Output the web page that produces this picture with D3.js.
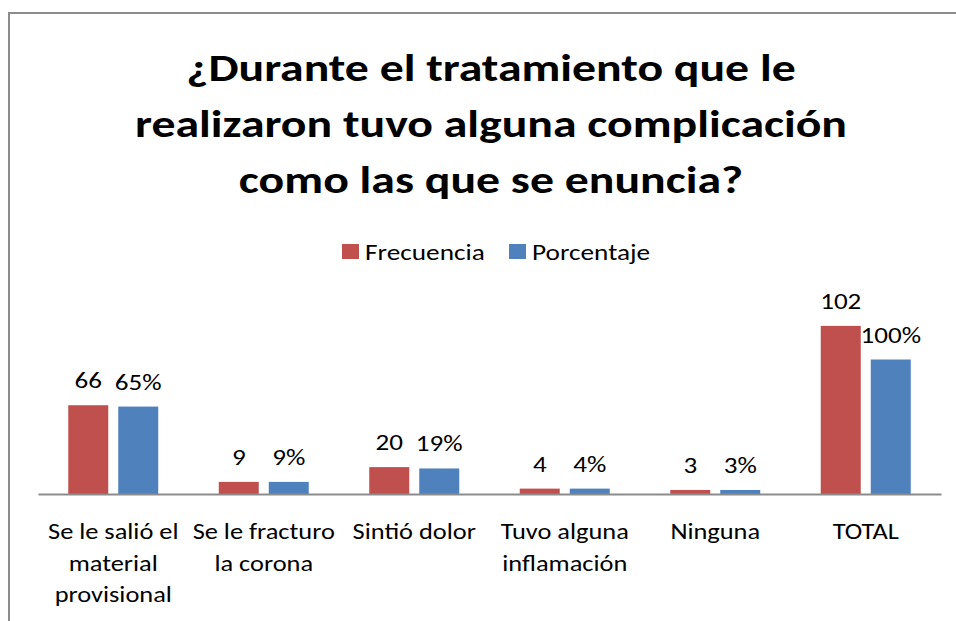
<!DOCTYPE html>
<html>
<head>
<meta charset="utf-8">
<script src="https://cdn.jsdelivr.net/npm/d3@7"></script>
<style>
  html, body { margin: 0; padding: 0; background: #fff; }
  svg { display: block; }
  text { font-family: Carlito, Calibri, Lato, "Open Sans", sans-serif; fill: #000; }
</style>
</head>
<body>
<svg id="chart" width="956" height="621"></svg>
<script>
const titleLines = ["¿Durante el tratamiento que le", "realizaron tuvo alguna complicación", "como las que se enuncia?"];
const categories = ["Se le salió el material provisional", "Se le fracturo la corona", "Sintió dolor", "Tuvo alguna inflamación", "Ninguna", "TOTAL"];
const categoryLines = [["Se le salió el", "material", "provisional"], ["Se le fracturo", "la corona"], ["Sintió dolor"], ["Tuvo alguna", "inflamación"], ["Ninguna"], ["TOTAL"]];
const seriesNames = ["Frecuencia", "Porcentaje"];
const frecuencia = [66, 9, 20, 4, 3, 125];       // bar heights as drawn
const frecuenciaLabels = ["66", "9", "20", "4", "3", "102"];
const porcentaje = [65, 9, 19, 4, 3, 100];
const porcentajeLabels = ["65%", "9%", "19%", "4%", "3%", "100%"];
const colors = ["#C0504D", "#4F81BD"];

const svg = d3.select("#chart");

// horizontally stretched text helper
function stext(parent, x, y, sx, size, str, weight) {
  const g = parent.append("g").attr("transform", `translate(${x},${y}) scale(${sx},1)`);
  const t = g.append("text").attr("x", 0).attr("y", 0)
    .attr("text-anchor", "middle").attr("font-size", size).text(str);
  if (weight) t.attr("font-weight", weight);
  return t;
}

// outer frame (only top/left visible)
svg.append("path")
  .attr("d", "M9,621 L9,13 L956,13")
  .attr("fill", "none").attr("stroke", "#8c8c8c").attr("stroke-width", 2);

// title
titleLines.forEach((l, i) => {
  stext(svg, 491, 81 + i * 56, 1.225, 39, l, "bold");
});

// legend
const legendX = [342, 509];
seriesNames.forEach((n, i) => {
  svg.append("rect").attr("x", legendX[i]).attr("y", 244).attr("width", 17).attr("height", 15).attr("fill", colors[i]);
  stext(svg, legendX[i] + 23, 260, 1.24, 22, n).attr("text-anchor", "start");
});

// scales
const x = d3.scaleBand().domain(categories).range([38, 941]).paddingInner(0).paddingOuter(0);
const xs = d3.scaleBand().domain(seriesNames).range([0, x.bandwidth()]).paddingInner(0.2).paddingOuter(0.605);
const y = d3.scaleLinear().domain([0, 140]).range([494, 494 - 140 * 1.345]);

const series = [
  { name: seriesNames[0], values: frecuencia, labels: frecuenciaLabels, color: colors[0] },
  { name: seriesNames[1], values: porcentaje, labels: porcentajeLabels, color: colors[1] }
];

series.forEach(s => {
  const g = svg.append("g");
  g.selectAll("rect").data(categories).join("rect")
    .attr("x", (c) => x(c) + xs(s.name))
    .attr("width", xs.bandwidth())
    .attr("y", (c, i) => y(s.values[i]))
    .attr("height", (c, i) => y(0) - y(s.values[i]))
    .attr("fill", s.color);
  categories.forEach((c, i) => {
    stext(g, x(c) + xs(s.name) + xs.bandwidth() / 2, y(s.values[i]) - 17, 1.23, 22, s.labels[i]);
  });
});

// axis
const xAxis = svg.append("g").attr("transform", "translate(0,494)")
  .call(d3.axisBottom(x).tickSize(0).tickFormat(""));
xAxis.select(".domain").attr("stroke", "#8c8c8c").attr("stroke-width", 2);

// category labels
categories.forEach((c, i) => {
  categoryLines[i].forEach((l, j) => {
    stext(svg, x(c) + x.bandwidth() / 2, 539 + j * 31.5, 1.2, 22, l);
  });
});
</script>
</body>
</html>
